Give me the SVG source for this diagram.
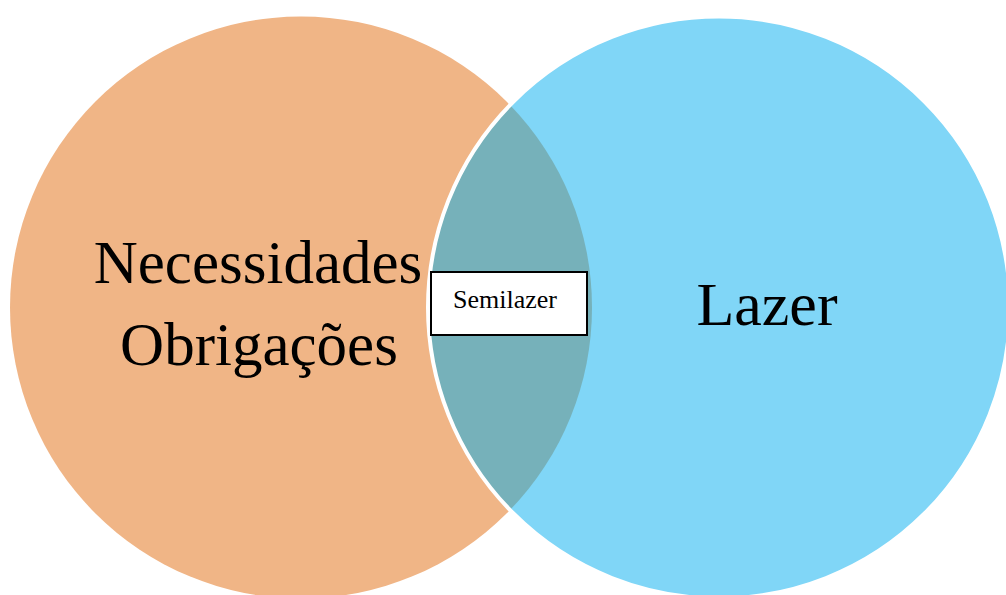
<svg xmlns="http://www.w3.org/2000/svg" width="1006" height="595" viewBox="0 0 1006 595">
  <style>
    .label { font-family: "Liberation Serif", "Times New Roman", serif; fill: #000; text-anchor: middle; }
    .big { font-size: 61px; }
    .lz { font-size: 62px; }
    .small { font-size: 26px; }
  </style>
  <rect width="1006" height="595" fill="#ffffff"/>
  <g id="necessidades">
    <circle cx="301" cy="307.5" r="291" fill="#F0B586"/>
  </g>
  <g id="lazer">
    <circle cx="719" cy="307.5" r="291" fill="#80D6F7"/>
  </g>
  <g id="intersecao">
    <path d="M510,105 A291,291 0 0 1 510,510 A291,291 0 0 1 510,105 Z" fill="#76B1BA"/>
    <circle cx="719" cy="307.5" r="291" fill="none" stroke="#ffffff" stroke-width="4"/>
  </g>
  <g id="labels-circles">
    <text class="label big" x="258" y="283">Necessidades</text>
    <text class="label big" x="259" y="365">Obrigações</text>
    <text class="label lz" x="767" y="325">Lazer</text>
  </g>
  <g id="semilazer">
    <rect x="431" y="272" width="156" height="63" fill="#ffffff" stroke="#000000" stroke-width="2"/>
    <text class="label small" x="505" y="308">Semilazer</text>
  </g>
  <g id="connectors"></g>
</svg>
